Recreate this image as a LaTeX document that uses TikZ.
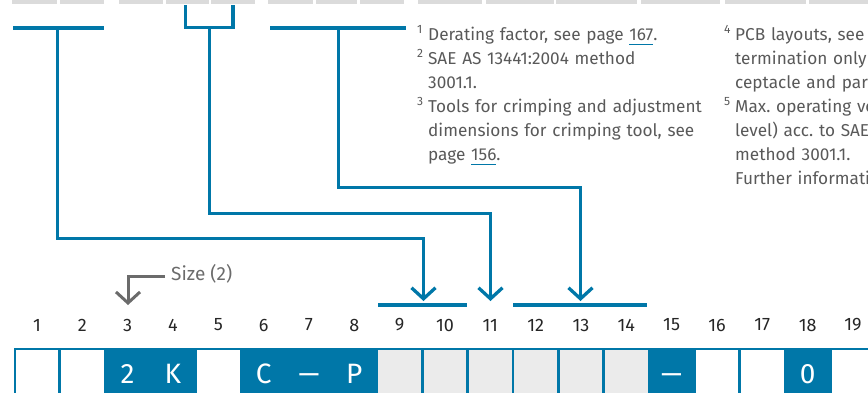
\documentclass[tikz,border=0pt]{standalone}
\usepackage{fontspec}
\setmainfont{Fira Sans}
\usepackage{xcolor}
\usetikzlibrary{arrows.meta,positioning}
\definecolor{ablue}{RGB}{0,119,168}
\frenchspacing
\newcommand\pagelink[1]{\setbox0\hbox{#1}\rlap{\color{ablue}\rule[-5pt]{\wd0}{1.4pt}}\box0}
\newcommand\fnum[1]{\makebox[11pt][l]{\textsuperscript{#1}}}
\newcommand\celldash{\vphantom{2}\scalebox{1.5}[1]{–}}

\begin{document}
\begin{tikzpicture}[x=1pt, y=-1pt,
    lead/.style={ablue, line width=3.3pt},
    leadarr/.style={lead, -{Straight Barb[length=11pt, width=24pt]}},
    sizearr/.style={black!58, line width=3pt, -{Straight Barb[length=11pt, width=24pt]}},
    cellbox/.style={draw=ablue, line width=1.3pt, minimum width=44pt, minimum height=50pt,
                    inner sep=0pt, text=white, font=\fontsize{28}{28}\selectfont},
    num/.style={font=\fontsize{18}{18}\selectfont, text=black!85},
    note/.style={font=\fontsize{17.2}{24}\selectfont, text=black!65, align=left,
                 anchor=base west, inner sep=0pt, text width=330pt}]
  \useasboundingbox (0,0) rectangle (868,392);
  % cut tabs of the table above
  \foreach \xa/\xb in {12/57, 60/104, 119/163, 166/209, 211/255, 268/313, 316/357, 360/404,
                       418/482, 486/554, 556/637, 641/720, 725/806, 809/880}
    \fill[black!14] (\xa,-4) rectangle (\xb,4);

  % position numbers and code cells
  \foreach \i in {1,...,19}
    \node[num] (n\i) at ({37+45.33*(\i-1)},325) {\i};
  \foreach \i/\t/\f in {1//white, 2//white, 3/2/ablue, 4/K/ablue, 5//white, 6/C/ablue,
                        7/\celldash/ablue, 8/P/ablue, 9//black!8, 10//black!8, 11//black!8,
                        12//black!8, 13//black!8, 14//black!8, 15/\celldash/ablue, 16//white,
                        17//white, 18/0/ablue, 19//white}
    \node[cellbox, fill=\f] (c\i) at ({37+45.33*(\i-1)},374) {\t};

  % leads from the table
  \coordinate (tA) at (57.5,28);  \coordinate (hA) at (423.5,301);
  \coordinate (tB) at (209.5,27.5); \coordinate (hB) at (490.5,301);
  \coordinate (tC) at (338.5,28); \coordinate (hC) at (580.5,301);
  \draw[lead] (13,28) -- (104,28);
  \draw[lead] (185.5,5) |- (233,27.5) -- (233,5);
  \draw[lead] (270,28) -- (406,28);
  \draw[leadarr] (tA) -- ++(0,210.5) -| (hA);
  \draw[leadarr] (tB) -- ++(0,186) -| (hB);
  \draw[leadarr] (tC) -- ++(0,159.5) -| (hC);
  \draw[lead] (378,305) -- (467,305);
  \draw[lead] (513,305) -- (647,305);

  % size hint
  \node[font=\fontsize{19}{22}\selectfont, text=black!58, anchor=west, inner sep=0pt]
    (sz) at (171,274) {Size (2)};
  \coordinate (s3) at (128,305);
  \draw[sizearr] ([xshift=-6pt]sz.west |- 0,276.5) -| (s3);

  % footnotes
  \node[note] (fa) at (417,40) {\fnum{1}Derating factor, see page \pagelink{167}.\\
    \fnum{2}SAE AS 13441:2004 method\\ \hspace*{11pt}3001.1.\\
    \fnum{3}Tools for crimping and adjustment\\
    \hspace*{11pt}dimensions for crimping tool, see\\
    \hspace*{11pt}page \pagelink{156}.};
  \node[note] (fb) at (724,40) {\fnum{4}PCB layouts, see\\
    \hspace*{11pt}termination only\\ \hspace*{11pt}ceptacle and par\\
    \fnum{5}Max. operating vo\\ \hspace*{11pt}level) acc. to SAE\\
    \hspace*{11pt}method 3001.1.\\ \hspace*{11pt}Further informati};
\end{tikzpicture}
\end{document}
